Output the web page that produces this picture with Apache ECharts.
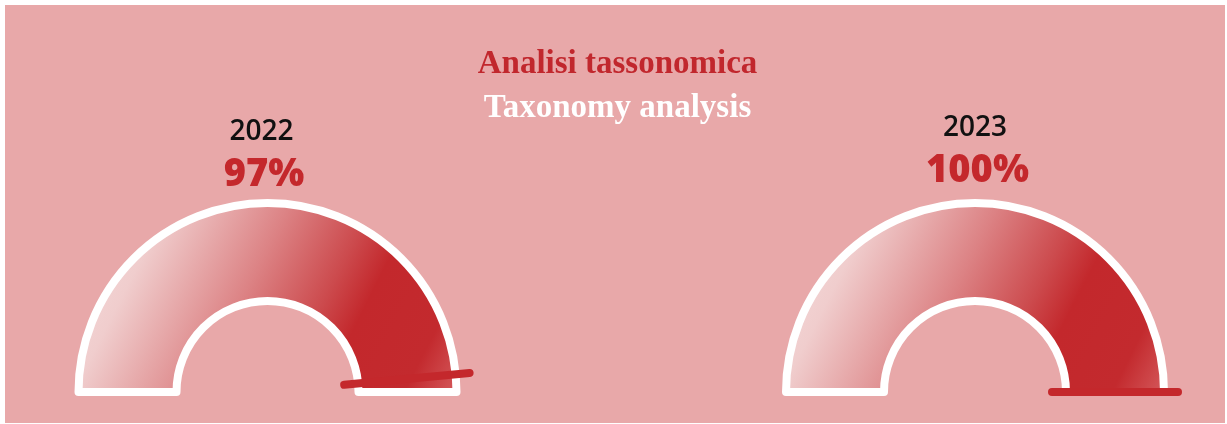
<!DOCTYPE html>
<html>
<head>
<meta charset="utf-8">
<script src="https://cdn.jsdelivr.net/npm/echarts@6/dist/echarts.min.js"></script>
<style>
html,body{margin:0;padding:0;background:#fff;}
#chart{width:1227px;height:424px;}
</style>
</head>
<body>
<div id="chart"></div>
<script>
// ---- data ----
const titles = ['Analisi tassonomica', 'Taxonomy analysis'];
const years = ['2022', '2023'];
const values = [97, 100];
const scaleMax = 100;

// ---- styles / layout ----
const RED = '#c4282c';
const PINK = '#e8a8a9';
const centers = [[267.5, 392], [975, 392]];
const innerR = 91, outerR = 189;
const needleFrom = 77, needleTo = 203, polarR = 220;
const yearX = [261.5, 975], yearY = [132, 128];
const pctX = [264, 977.5], pctY = [175, 171];

const chart = echarts.init(document.getElementById('chart'), null, {renderer: 'canvas'});

const bandColor = new echarts.graphic.LinearGradient(0, 0, 1, 1, [
  {offset: 0.0, color: '#f6e0e0'},
  {offset: 0.2, color: '#f0cdcd'},
  {offset: 0.45, color: '#dc8284'},
  {offset: 0.62, color: '#cc4a4d'},
  {offset: 0.71, color: '#c3282c'},
  {offset: 0.88, color: '#c32a2e'},
  {offset: 1.0, color: '#d65e60'}
]);

const series = [];
const polar = [], angleAxis = [], radiusAxis = [];
values.forEach((v, i) => {
  series.push({
    type: 'pie',
    center: centers[i],
    radius: [innerR, outerR],
    startAngle: 180,
    endAngle: 0,
    clockwise: true,
    silent: true,
    animation: false,
    label: {show: false},
    labelLine: {show: false},
    emphasis: {disabled: true},
    itemStyle: {color: bandColor, borderColor: '#fff', borderWidth: 8, borderJoin: 'round'},
    data: [{value: scaleMax, name: years[i]}]
  });
  polar.push({center: centers[i], radius: polarR});
  angleAxis.push({
    polarIndex: i, type: 'value', min: 0, max: scaleMax * 2, startAngle: 180, clockwise: true,
    show: false, axisLine: {show: false}, axisTick: {show: false}, axisLabel: {show: false}, splitLine: {show: false}
  });
  radiusAxis.push({
    polarIndex: i, type: 'value', min: 0, max: polarR,
    show: false, axisLine: {show: false}, axisTick: {show: false}, axisLabel: {show: false}, splitLine: {show: false}
  });
});
values.forEach((v, i) => {
  series.push({
    type: 'line',
    coordinateSystem: 'polar',
    polarIndex: i,
    silent: true,
    animation: false,
    clip: false,
    symbol: 'none',
    lineStyle: {color: RED, width: 8, cap: 'round'},
    data: [[needleFrom, v], [needleTo, v]]
  });
});

const graphic = [
  {type: 'rect', z: -10, silent: true, shape: {x: 5, y: 5, width: 1220, height: 418}, style: {fill: PINK}},
  {type: 'text', x: 617.5, y: 64, style: {text: titles[0], fill: '#c1272d', font: 'bold 33px "Liberation Serif"', textAlign: 'center', textVerticalAlign: 'middle'}},
  {type: 'text', x: 617.5, y: 108, style: {text: titles[1], fill: '#ffffff', font: 'bold 33px "Liberation Serif"', textAlign: 'center', textVerticalAlign: 'middle'}}
];
values.forEach((v, i) => {
  graphic.push({type: 'text', x: yearX[i], y: yearY[i], style: {text: years[i], fill: '#111', font: '600 28px "Open Sans"', textAlign: 'center', textVerticalAlign: 'middle'}});
  graphic.push({type: 'text', x: pctX[i], y: pctY[i], style: {text: v + '%', fill: RED, font: '800 38px "Open Sans"', textAlign: 'center', textVerticalAlign: 'middle'}});
});

chart.setOption({
  backgroundColor: '#fff',
  animation: false,
  polar, angleAxis, radiusAxis,
  graphic,
  series
});
</script>
</body>
</html>
